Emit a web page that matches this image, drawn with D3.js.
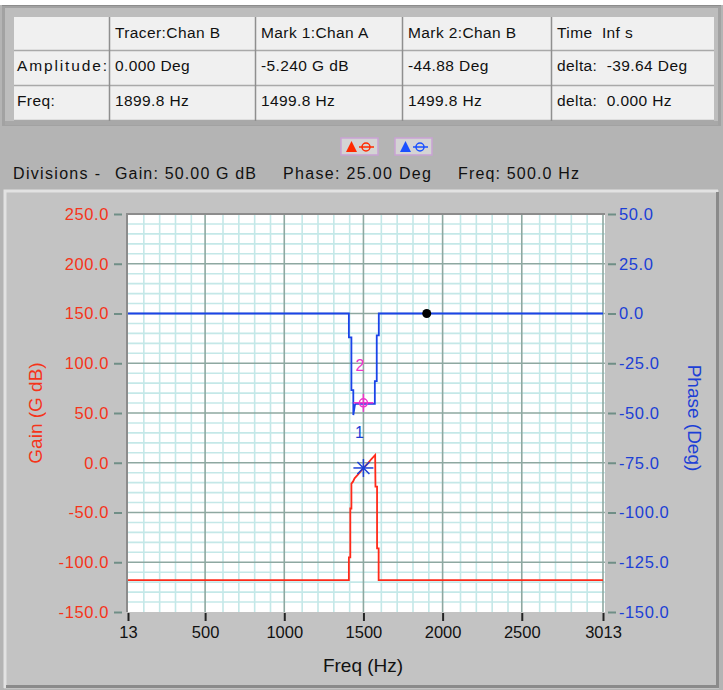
<!DOCTYPE html>
<html><head><meta charset="utf-8">
<script src="https://cdn.jsdelivr.net/npm/d3@7"></script>
<style>
html,body{margin:0;padding:0;background:#fff;}
svg{display:block;}
text{font-family:"Liberation Sans",Arial,sans-serif;white-space:pre;}
</style>
</head><body>
<svg id="chart" width="723" height="690"></svg>
<script>
// ---------- data ----------
const freqTicks  = [13, 500, 1000, 1500, 2000, 2500, 3013];
const gainTicks  = [-150, -100, -50, 0, 50, 100, 150, 200, 250];
const phaseTicks = [-150, -125, -100, -75, -50, -25, 0, 25, 50];

// Gain trace (Chan A), G dB
const gainFreq = [13, 1408, 1408, 1417, 1417, 1424, 1424, 1434, 1444, 1465, 1500, 1528, 1549, 1574, 1576, 1586, 1586, 1596, 1596, 3013];
const gainDb   = [-118, -118, -95, -95, -46, -46, -21, -19, -15.6, -12, -5.3, -0.6, 3.5, 7.8, -24, -24, -86, -86, -118, -118];

// Phase trace (Chan B), Deg
const phaseFreq = [13, 1408, 1408, 1424, 1424, 1436, 1436, 1446, 1452, 1572, 1572, 1584, 1584, 1597, 1597, 3013];
const phaseDeg  = [0, 0, -12, -12, -38.5, -38.5, -51, -46, -45.4, -45.4, -34, -34, -11, -11, 0, 0];

const marker1 = {freq: 1499.8, gain: -5.24, label: "1"};
const marker2 = {freq: 1499.8, phase: -44.88, label: "2"};
const tracer  = {freq: 1899.8, phase: 0};

const tableHeader = ["", "Tracer:Chan B", "Mark 1:Chan A", "Mark 2:Chan B", "Time  Inf s"];
const rowAmplitude = ["Amplitude:", "0.000 Deg", "-5.240 G dB", "-44.88 Deg", "delta:  -39.64 Deg"];
const rowFreq = ["Freq:", "1899.8 Hz", "1499.8 Hz", "1499.8 Hz", "delta:  0.000 Hz"];

const divisionsText = ["Divisions -", "Gain: 50.00 G dB", "Phase: 25.00 Deg", "Freq: 500.0 Hz"];

// ---------- layout ----------
const svg = d3.select("#chart");
const W = 723, H = 690;
const plot = {l: 127, r: 605, t: 214, b: 612};

const red = "#f5341a", blue = "#1c3fd6", gridMajor = "#8ea8a1", gridMinor = "#c4e8e8";
const fmt1 = v => d3.format(".1f")(v).replace("\u2212", "-");

// backgrounds
svg.append("rect").attr("x",0).attr("y",0).attr("width",W).attr("height",H).attr("fill","#b4b4b4");
svg.append("rect").attr("x",0).attr("y",0).attr("width",W).attr("height",5).attr("fill","#ffffff");

// top panel frame
svg.append("rect").attr("x",2).attr("y",5).attr("width",719).attr("height",121).attr("fill","#a2a2a2");
svg.append("rect").attr("x",5).attr("y",8).attr("width",713).attr("height",115).attr("fill","#bdbdbd");
svg.append("line").attr("x1",2).attr("x2",721).attr("y1",5.5).attr("y2",5.5).attr("stroke","#8c8c8c");

// table
const colEdges = [14, 109, 255, 402, 551, 714];
const rowEdges = [17, 50, 85, 120, 122];
const rows = [tableHeader, rowAmplitude, rowFreq];
const tbl = svg.append("g");
tbl.append("rect").attr("x",colEdges[0]).attr("y",rowEdges[0])
  .attr("width",colEdges[5]-colEdges[0]).attr("height",rowEdges[4]-rowEdges[0]).attr("fill","#f0f0f0");
rowEdges.slice(1,4).forEach(y => tbl.append("line").attr("x1",colEdges[0]).attr("x2",colEdges[5])
  .attr("y1",y+0.5).attr("y2",y+0.5).attr("stroke","#a9a9a9").attr("stroke-width",1.5));
colEdges.slice(1,5).forEach(x => tbl.append("line").attr("x1",x+0.5).attr("x2",x+0.5)
  .attr("y1",rowEdges[0]).attr("y2",rowEdges[4]).attr("stroke","#8f8f8f").attr("stroke-width",1.5));
rows.forEach((row, ri) => {
  row.forEach((txt, ci) => {
    const t = tbl.append("text").attr("x", colEdges[ci] + (ci===0?3:6)).attr("y", rowEdges[ri] + 21)
      .attr("font-size", 15.5).attr("letter-spacing", 0.4).attr("fill","#111").text(txt);
    if (txt === "Amplitude:") t.attr("textLength", 90).attr("lengthAdjust","spacing").attr("letter-spacing",0);
  });
});
// bottom shading of top panel
svg.append("rect").attr("x",5).attr("y",121).attr("width",713).attr("height",4).attr("fill","#a8a8a8");

// legend buttons
function button(x, color) {
  const g = svg.append("g").attr("transform", `translate(${x},138)`);
  g.append("rect").attr("x",0).attr("y",0).attr("width",37).attr("height",17)
    .attr("fill","#d4d4d4").attr("stroke","#c9a2d4").attr("stroke-width",1.5);
  g.append("path").attr("d","M5,14 L10.5,3 L16,14 Z").attr("fill",color);
  g.append("circle").attr("cx",25).attr("cy",9).attr("r",4).attr("fill","none").attr("stroke",color).attr("stroke-width",1.5);
  g.append("line").attr("x1",18).attr("x2",33).attr("y1",9).attr("y2",9).attr("stroke",color).attr("stroke-width",1.5);
}
button(341, "#ff2a00");
button(395, "#1a50ff");

// divisions text
const divX = [13, 115, 283, 458];
const divLen = [87, 141, 148, 121];
divisionsText.forEach((t,i) => svg.append("text").attr("x",divX[i]).attr("y",179)
  .attr("font-size",16).attr("fill","#111").attr("textLength",divLen[i]).attr("lengthAdjust","spacing").text(t));

// plot panel
svg.append("rect").attr("x",4).attr("y",190).attr("width",715).attr("height",499).attr("fill","#c3c3c3");
svg.append("path").attr("d","M5,688 L5,191 L718,191").attr("fill","none").attr("stroke","#e2e2e2").attr("stroke-width",3);
svg.append("path").attr("d","M6,686.5 L717.5,686.5 L717.5,192").attr("fill","none").attr("stroke","#8a8a8a").attr("stroke-width",3);

// ---------- scales ----------
const x = d3.scaleLinear().domain([13, 3013]).range([128, 603]);
const yG = d3.scaleLinear().domain([-150, 250]).range([plot.b, plot.t]);
const yP = d3.scaleLinear().domain([-150, 50]).range([plot.b, plot.t]);

// plot background
svg.append("rect").attr("x",plot.l).attr("y",plot.t).attr("width",plot.r-plot.l).attr("height",plot.b-plot.t).attr("fill","#ffffff");

// grid
const grid = svg.append("g");
const minorX = d3.range(1, 30).filter(k => k % 5 !== 0).map(k => 13 + 100*k);
const minorY = d3.range(-140, 250, 10).filter(v => v % 50 !== 0);
minorX.forEach(f => grid.append("line").attr("x1",x(f)).attr("x2",x(f)).attr("y1",plot.t).attr("y2",plot.b)
  .attr("stroke",gridMinor).attr("stroke-width",1.6));
minorY.forEach(v => grid.append("line").attr("x1",plot.l).attr("x2",plot.r).attr("y1",yG(v)).attr("y2",yG(v))
  .attr("stroke",gridMinor).attr("stroke-width",1.6));
freqTicks.slice(1,6).forEach(f => grid.append("line").attr("x1",x(f)).attr("x2",x(f)).attr("y1",plot.t).attr("y2",plot.b)
  .attr("stroke",gridMajor).attr("stroke-width",1.6));
gainTicks.slice(1,8).forEach(v => grid.append("line").attr("x1",plot.l).attr("x2",plot.r).attr("y1",yG(v)).attr("y2",yG(v))
  .attr("stroke",gridMajor).attr("stroke-width",1.6));
grid.append("line").attr("x1",x(3013)).attr("x2",x(3013)).attr("y1",plot.t).attr("y2",plot.b).attr("stroke",gridMajor).attr("stroke-width",1.6);
// border (left + top)
svg.append("path").attr("d",`M${plot.l},${plot.b} L${plot.l},${plot.t} L${plot.r},${plot.t}`)
  .attr("fill","none").attr("stroke","#8c8c8c").attr("stroke-width",2);

// ---------- axes ----------
const tickCol = "#6f8e86";
const leftAxis = svg.append("g").attr("transform",`translate(${plot.l - 5},0)`)
  .call(d3.axisLeft(yG).tickValues(gainTicks).tickFormat(fmt1).tickSize(8).tickPadding(5));
leftAxis.select(".domain").remove();
leftAxis.selectAll(".tick line").attr("stroke",tickCol).attr("stroke-width",2);
leftAxis.selectAll(".tick text").attr("fill",red).attr("font-size",16.5).attr("letter-spacing",0.6)
  .attr("font-family","Liberation Sans, Arial, sans-serif");

const rightAxis = svg.append("g").attr("transform",`translate(${plot.r + 3},0)`)
  .call(d3.axisRight(yP).tickValues(phaseTicks).tickFormat(fmt1).tickSize(8).tickPadding(3));
rightAxis.select(".domain").remove();
rightAxis.selectAll(".tick line").attr("stroke",tickCol).attr("stroke-width",2);
rightAxis.selectAll(".tick text").attr("fill",blue).attr("font-size",16.5).attr("letter-spacing",0.6)
  .attr("font-family","Liberation Sans, Arial, sans-serif");

const bottomAxis = svg.append("g").attr("transform",`translate(0,${plot.b + 1})`)
  .call(d3.axisBottom(x).tickValues(freqTicks).tickFormat(d3.format("d")).tickSize(8).tickPadding(5));
bottomAxis.select(".domain").remove();
bottomAxis.selectAll(".tick line").attr("stroke","#222").attr("stroke-width",2);
bottomAxis.selectAll(".tick text").attr("fill","#111").attr("font-size",16.5)
  .attr("font-family","Liberation Sans, Arial, sans-serif");

// axis titles
svg.append("text").attr("transform","translate(42,413) rotate(-90)").attr("text-anchor","middle")
  .attr("font-size",19).attr("fill",red).text("Gain (G dB)");
svg.append("text").attr("transform","translate(688,418) rotate(90)").attr("text-anchor","middle")
  .attr("font-size",19).attr("fill",blue).text("Phase (Deg)");
svg.append("text").attr("x",363).attr("y",672).attr("text-anchor","middle")
  .attr("font-size",19).attr("fill","#111").text("Freq (Hz)");

// ---------- traces ----------
const gainPts = gainFreq.map((f,i) => [f, gainDb[i]]);
const phasePts = phaseFreq.map((f,i) => [f, phaseDeg[i]]);
svg.append("path").datum(gainPts)
  .attr("d", d3.line().x(d => x(d[0])).y(d => yG(d[1])))
  .attr("fill","none").attr("stroke","#ff2a1a").attr("stroke-width",1.8);
svg.append("path").datum(phasePts)
  .attr("d", d3.line().x(d => x(d[0])).y(d => yP(d[1])))
  .attr("fill","none").attr("stroke","#1a44e8").attr("stroke-width",1.8);

// tracer dot
svg.append("circle").attr("cx",x(tracer.freq)).attr("cy",yP(tracer.phase)).attr("r",4.5).attr("fill","#000");

// marker 2 (phase) magenta crosshair circle
const mag = "#ee33cc";
const m2x = x(marker2.freq), m2y = yP(marker2.phase);
const m2 = svg.append("g");
m2.append("line").attr("x1",m2x-10).attr("x2",m2x+10).attr("y1",m2y).attr("y2",m2y).attr("stroke",mag).attr("stroke-width",1.5);
m2.append("line").attr("x1",m2x).attr("x2",m2x).attr("y1",m2y-9).attr("y2",m2y+9).attr("stroke",mag).attr("stroke-width",1.5);
m2.append("circle").attr("cx",m2x).attr("cy",m2y).attr("r",4).attr("fill","none").attr("stroke",mag).attr("stroke-width",1.5);
svg.append("text").attr("x",m2x-3.5).attr("y",m2y-32).attr("text-anchor","middle").attr("font-size",16).attr("fill",mag).text(marker2.label);

// marker 1 (gain) blue asterisk
const m1x = x(marker1.freq), m1y = yG(marker1.gain);
const m1 = svg.append("g").attr("stroke",blue).attr("stroke-width",1.5);
m1.append("line").attr("x1",m1x-10).attr("x2",m1x+10).attr("y1",m1y).attr("y2",m1y);
m1.append("line").attr("x1",m1x).attr("x2",m1x).attr("y1",m1y-9).attr("y2",m1y+9);
m1.append("line").attr("x1",m1x-6).attr("x2",m1x+6).attr("y1",m1y-6).attr("y2",m1y+6);
m1.append("line").attr("x1",m1x-6).attr("x2",m1x+6).attr("y1",m1y+6).attr("y2",m1y-6);
svg.append("text").attr("x",m2x-4).attr("y",m2y+35).attr("text-anchor","middle").attr("font-size",16).attr("fill",blue).text(marker1.label);
</script>
</body></html>
